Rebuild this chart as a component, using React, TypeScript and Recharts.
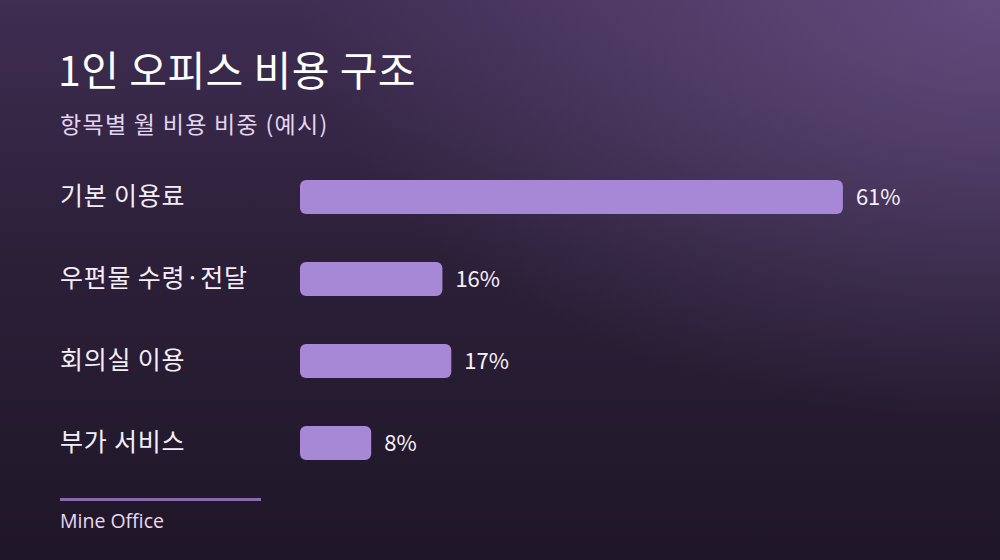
import React from "react";
import { BarChart, Bar, XAxis, YAxis, LabelList } from "recharts";

const categories = ["기본 이용료", "우편물 수령·전달", "회의실 이용", "부가 서비스"];
const shares = [61, 16, 17, 8];

const data = categories.map((name, i) => ({ name, value: shares[i] }));

const FONT = "'Noto Sans CJK KR', 'Noto Sans', sans-serif";

const YTick = (props: any) => {
  const { y, payload } = props;
  return (
    <text x={60} y={y} dy={8} fill="#f4eefa" fontSize={25} letterSpacing={0.8} fontFamily={FONT} textAnchor="start">
      {payload.value}
    </text>
  );
};

const ValueLabel = (props: any) => {
  const { x, y, width, height, value } = props;
  return (
    <text x={x + width + 13} y={y + height / 2} dy={8} fill="#f6f0fb" fontSize={22} fontFamily={FONT} textAnchor="start">
      {value}%
    </text>
  );
};

export default function App() {
  return (
    <div
      style={{
        position: "absolute",
        left: 0,
        top: 0,
        width: 1000,
        height: 560,
        overflow: "hidden",
        fontFamily: FONT,
        background:
          "radial-gradient(ellipse 700px 420px at 1000px 0px, rgba(110,85,140,0.75) 0%, rgba(110,85,140,0) 100%), linear-gradient(180deg, #3f2d52 0%, #2c2039 45%, #1f1627 100%)",
      }}
    >
      <div style={{ position: "absolute", left: 58, top: 38, fontSize: 41, color: "#ffffff", lineHeight: "60px", fontWeight: 400, letterSpacing: 0.5 }}>
        1인 오피스 비용 구조
      </div>
      <div style={{ position: "absolute", left: 60, top: 106, fontSize: 23, color: "#e4d5f1", lineHeight: "34px", letterSpacing: 1.3 }}>
        항목별 월 비용 비중 (예시)
      </div>
      <div style={{ position: "absolute", left: 0, top: 0 }}>
        <BarChart
          width={1000}
          height={560}
          data={data}
          layout="vertical"
          margin={{ top: 156, right: 77, bottom: 76, left: 60 }}
          barCategoryGap={24}
        >
          <XAxis type="number" domain={[0, 70]} hide />
          <YAxis
            type="category"
            dataKey="name"
            width={240}
            axisLine={false}
            tickLine={false}
            tick={<YTick />}
          />
          <Bar dataKey="value" fill="#a688d6" barSize={34} radius={6} isAnimationActive={false}>
            <LabelList dataKey="value" content={<ValueLabel />} />
          </Bar>
        </BarChart>
      </div>
      <div style={{ position: "absolute", left: 60, top: 498, width: 201, height: 3, background: "#8a6aae" }} />
      <div style={{ position: "absolute", left: 60, top: 507, fontSize: 19.5, color: "#ecd8f4", lineHeight: "28px", fontFamily: "'Open Sans', sans-serif" }}>
        Mine Office
      </div>
    </div>
  );
}
